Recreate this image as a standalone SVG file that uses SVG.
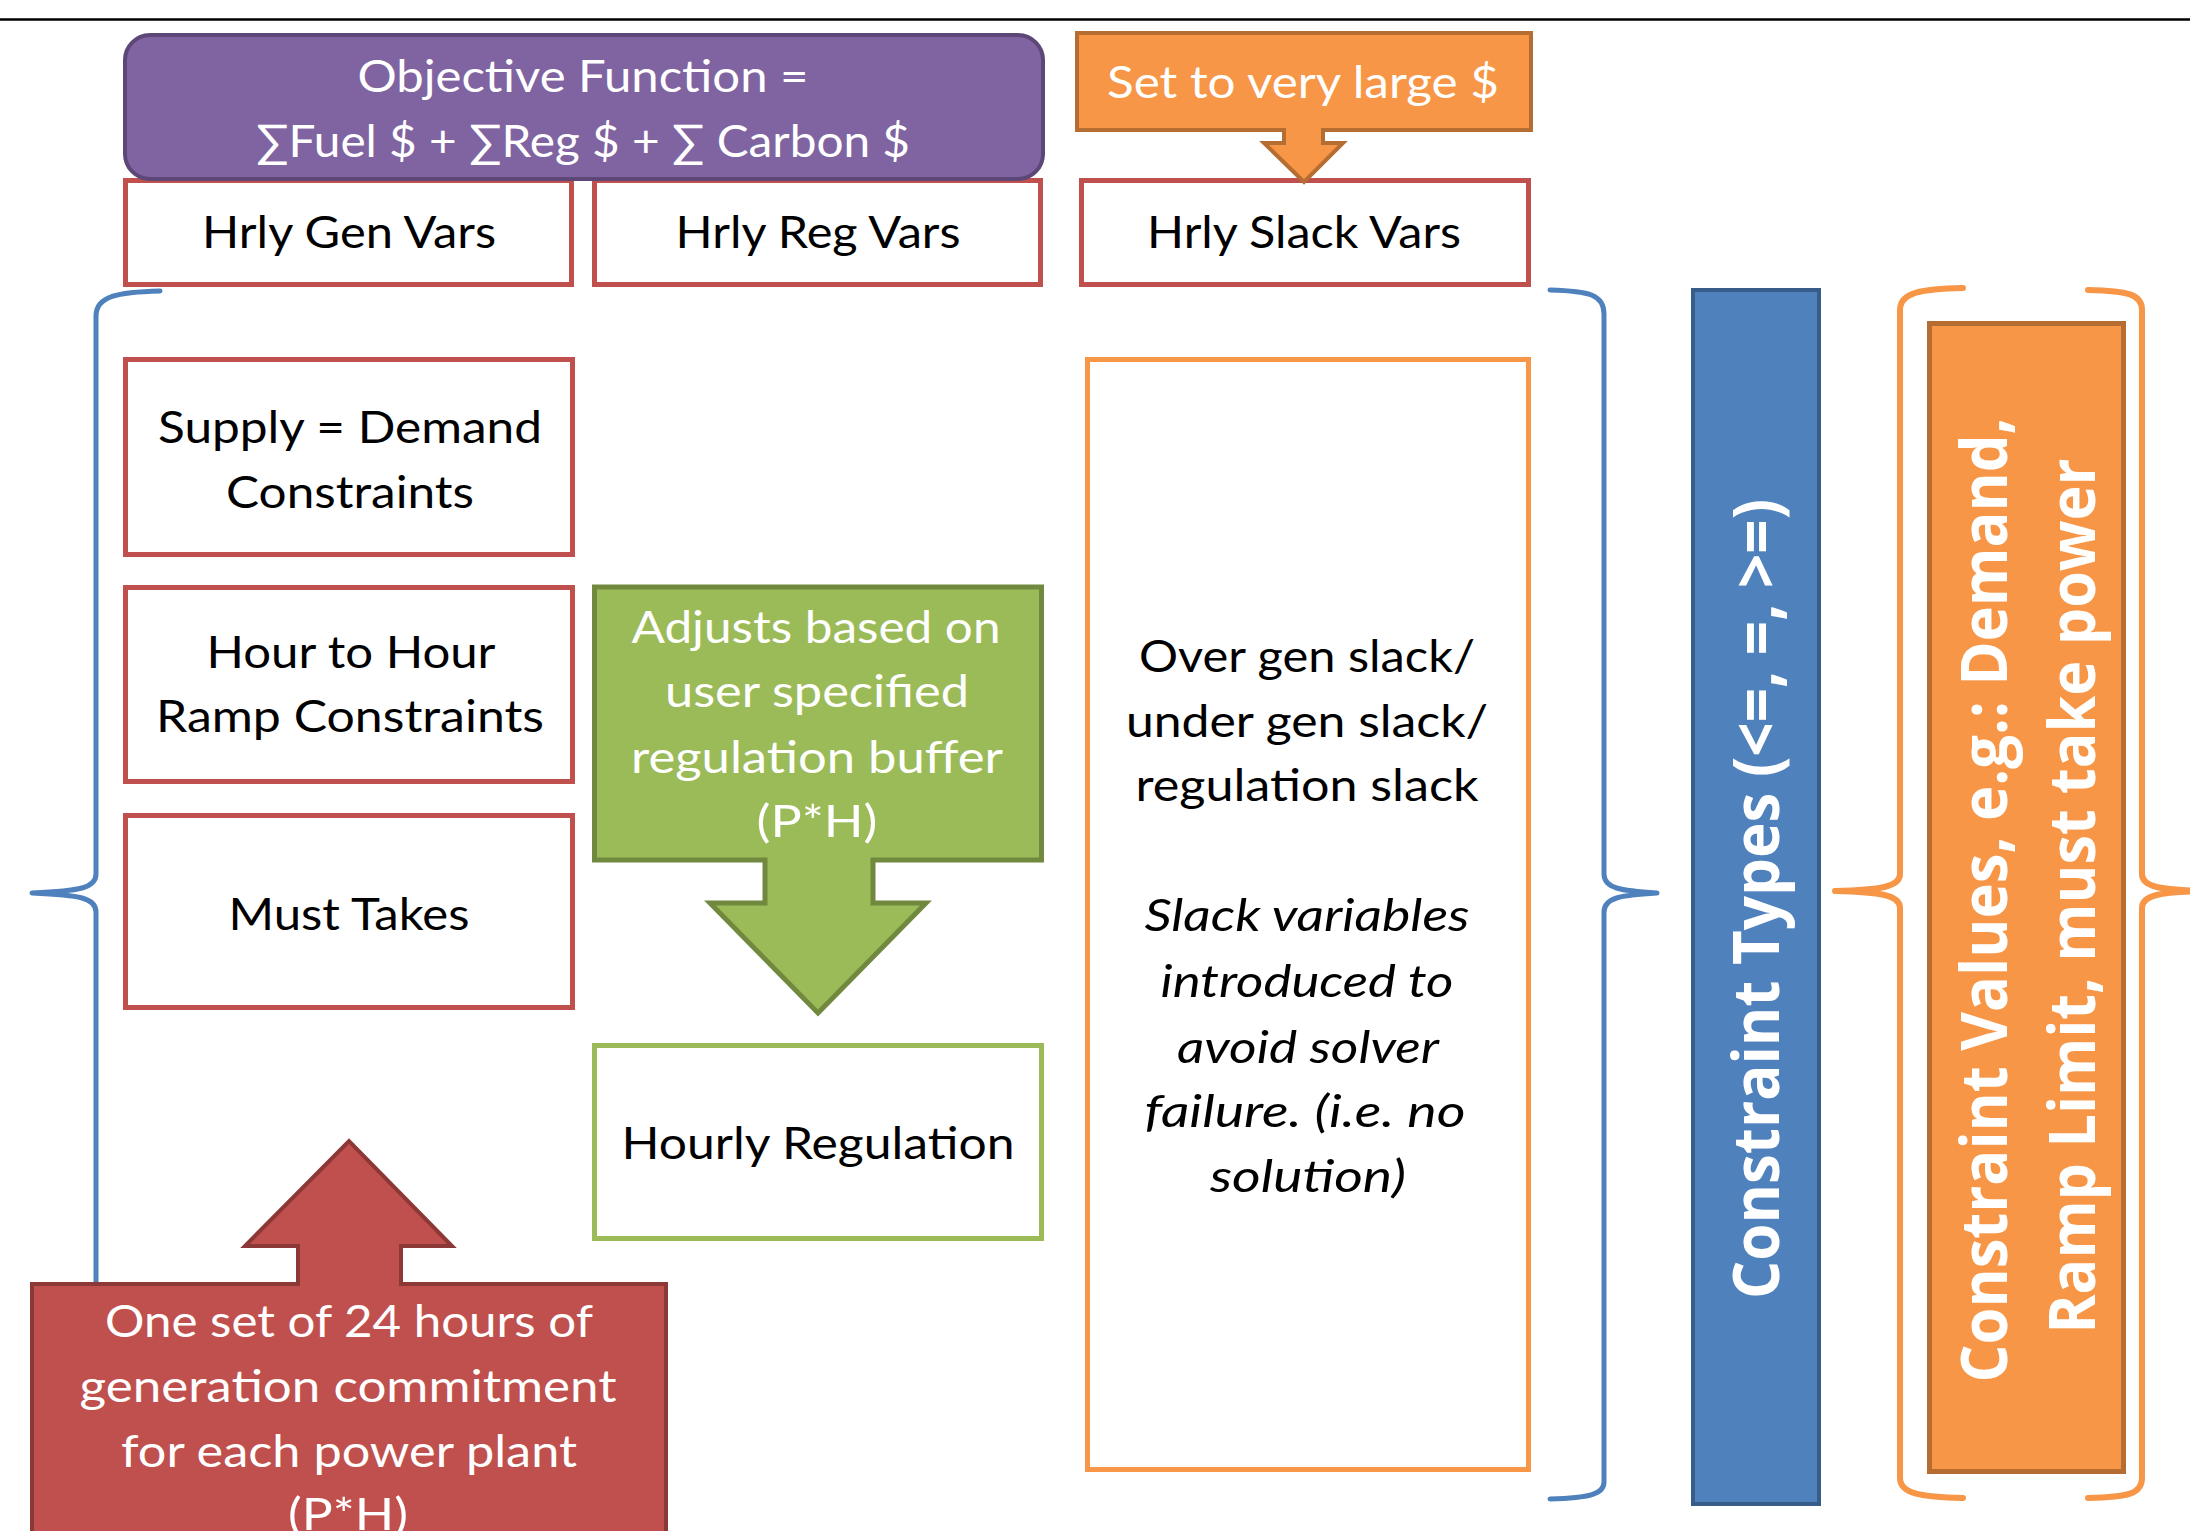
<svg xmlns="http://www.w3.org/2000/svg" width="2190" height="1531" viewBox="0 0 2190 1531">
<style>
.frame{fill:#FFFFFF;stroke:#C0504D;stroke-width:5}
.t{font-family:Lato,"Open Sans","Liberation Sans",sans-serif;font-size:45px;text-anchor:middle;fill:#000000}
.w{fill:#FFFFFF}
.i{font-style:italic}
.v{font-family:"Open Sans","DejaVu Sans","Liberation Sans",sans-serif;font-weight:700;font-size:64px;text-anchor:middle;fill:#FFFFFF}
.brace-b{fill:none;stroke:#4F81BD;stroke-width:5;stroke-linecap:round;stroke-linejoin:round}
.brace-o{fill:none;stroke:#F79646;stroke-width:6;stroke-linecap:round;stroke-linejoin:round}
</style>
<rect x="0" y="0" width="2190" height="1531" fill="#FFFFFF"/>
<line x1="0" y1="19.5" x2="2190" y2="19.5" stroke="#000000" stroke-width="2.5"/>

<g id="connectors">
<path class="brace-b" d="M160,291 C118,292 96,296 96,316 L96,874 C96,888 80,891 32,893 C80,895 96,898 96,912 L96,1560"/>
<path class="brace-b" d="M1550,290 C1590,291 1604,295 1604,314 L1604,874 C1604,888 1620,891 1657,893 C1620,895 1604,898 1604,912 L1604,1482 C1604,1494 1590,1498 1550,1499"/>
<path class="brace-o" d="M1963,288 C1922,289 1900,292 1900,310 L1900,874 C1900,887 1880,890 1835,891 C1880,892 1900,895 1900,908 L1900,1478 C1900,1494 1922,1497 1963,1498"/>
<path class="brace-o" d="M2088,290 C2128,291 2142,294 2142,310 L2142,874 C2142,887 2160,890 2205,891 C2160,892 2142,895 2142,908 L2142,1478 C2142,1494 2128,1497 2088,1498"/>
</g>

<g id="hrly-gen-vars">
<rect class="frame" x="125.5" y="180.5" width="446" height="104"/>
<text class="t" x="349" y="248" textLength="294" lengthAdjust="spacingAndGlyphs">Hrly Gen Vars</text>
</g>
<g id="hrly-reg-vars">
<rect class="frame" x="594.5" y="180.5" width="446" height="104"/>
<text class="t" x="818" y="248" textLength="285" lengthAdjust="spacingAndGlyphs">Hrly Reg Vars</text>
</g>
<g id="objective-function">
<rect x="125" y="35" width="918" height="144" rx="25" ry="25" fill="#8064A2" stroke="#5C4776" stroke-width="4"/>
<text class="t w" x="583" y="92" textLength="451" lengthAdjust="spacingAndGlyphs">Objective Function =</text>
<text class="t w" x="583" y="157" textLength="654" lengthAdjust="spacingAndGlyphs">∑Fuel $ + ∑Reg $ + ∑ Carbon $</text>
</g>

<g id="hrly-slack-vars">
<rect class="frame" x="1081.5" y="180.5" width="447" height="104"/>
<text class="t" x="1304" y="248" textLength="314" lengthAdjust="spacingAndGlyphs">Hrly Slack Vars</text>
</g>
<g id="set-large">
<path d="M1077,33 H1531 V130 H1323 V143 H1343 L1304,182 L1264,143 H1284 V130 H1077 Z" fill="#F79646" stroke="#B66D31" stroke-width="4" stroke-linejoin="miter"/>
<text class="t w" x="1303" y="98" textLength="392" lengthAdjust="spacingAndGlyphs">Set to very large $</text>
</g>

<g id="supply-demand">
<rect class="frame" x="125.5" y="359.5" width="447" height="195"/>
<text class="t" x="350" y="443" textLength="384" lengthAdjust="spacingAndGlyphs">Supply = Demand</text>
<text class="t" x="350" y="508" textLength="248" lengthAdjust="spacingAndGlyphs">Constraints</text>
</g>
<g id="ramp-constraints">
<rect class="frame" x="125.5" y="587.5" width="447" height="194"/>
<text class="t" x="351" y="668" textLength="289" lengthAdjust="spacingAndGlyphs">Hour to Hour</text>
<text class="t" x="350" y="732" textLength="388" lengthAdjust="spacingAndGlyphs">Ramp Constraints</text>
</g>
<g id="must-takes">
<rect class="frame" x="125.5" y="815.5" width="447" height="192"/>
<text class="t" x="349" y="930" textLength="241" lengthAdjust="spacingAndGlyphs">Must Takes</text>
</g>

<g id="regulation-buffer">
<path d="M594.5,587 H1041.5 V860 H873 V903 H926 L818,1013 L710,903 H765 V860 H594.5 Z" fill="#9BBB59" stroke="#71893F" stroke-width="5" stroke-linejoin="miter"/>
<text class="t w" x="816" y="643" textLength="369" lengthAdjust="spacingAndGlyphs">Adjusts based on</text>
<text class="t w" x="817" y="707" textLength="304" lengthAdjust="spacingAndGlyphs">user specified</text>
<text class="t w" x="817" y="773" textLength="372" lengthAdjust="spacingAndGlyphs">regulation buffer</text>
<text class="t w" x="817" y="837" textLength="121" lengthAdjust="spacingAndGlyphs">(P*H)</text>
</g>

<g id="hourly-regulation">
<rect x="594.5" y="1045.5" width="447" height="193" fill="#FFFFFF" stroke="#9BBB59" stroke-width="5"/>
<text class="t" x="818" y="1159" textLength="393" lengthAdjust="spacingAndGlyphs">Hourly Regulation</text>
</g>

<g id="generation-commitment">
<path d="M32,1284 H298 V1246 H245 L349,1141 L452,1246 H401 V1284 H666 V1560 H32 Z" fill="#C0504D" stroke="#8C3836" stroke-width="4" stroke-linejoin="miter"/>
<text class="t w" x="349" y="1337" textLength="488" lengthAdjust="spacingAndGlyphs">One set of 24 hours of</text>
<text class="t w" x="348" y="1402" textLength="537" lengthAdjust="spacingAndGlyphs">generation commitment</text>
<text class="t w" x="349" y="1467" textLength="456" lengthAdjust="spacingAndGlyphs">for each power plant</text>
<text class="t w" x="348" y="1530" textLength="120" lengthAdjust="spacingAndGlyphs">(P*H)</text>
</g>

<g id="slack-description">
<rect x="1087.5" y="359.5" width="441" height="1110" fill="#FFFFFF" stroke="#F79646" stroke-width="5"/>
<text class="t" x="1307" y="672" textLength="336" lengthAdjust="spacingAndGlyphs">Over gen slack/</text>
<text class="t" x="1307" y="737" textLength="362" lengthAdjust="spacingAndGlyphs">under gen slack/</text>
<text class="t" x="1307" y="801" textLength="343" lengthAdjust="spacingAndGlyphs">regulation slack</text>
<text class="t i" x="1307" y="931" textLength="325" lengthAdjust="spacingAndGlyphs">Slack variables</text>
<text class="t i" x="1307" y="997" textLength="293" lengthAdjust="spacingAndGlyphs">introduced to</text>
<text class="t i" x="1308" y="1063" textLength="262" lengthAdjust="spacingAndGlyphs">avoid solver</text>
<text class="t i" x="1305" y="1127" textLength="321" lengthAdjust="spacingAndGlyphs">failure. (i.e. no</text>
<text class="t i" x="1308" y="1192" textLength="196" lengthAdjust="spacingAndGlyphs">solution)</text>
</g>

<g id="constraint-types">
<rect x="1693" y="290" width="126" height="1214" fill="#4F81BD" stroke="#385D8A" stroke-width="4"/>
<text class="v" transform="translate(1779,899) rotate(-90)" textLength="800" lengthAdjust="spacingAndGlyphs">Constraint Types (&lt;=, =, &gt;=)</text>
</g>

<g id="constraint-values">
<rect x="1929.5" y="323.5" width="194" height="1148" fill="#F79646" stroke="#B66D31" stroke-width="5"/>
<text class="v" transform="translate(2007,900) rotate(-90)" textLength="965" lengthAdjust="spacingAndGlyphs">Constraint Values, e.g.: Demand,</text>
<text class="v" transform="translate(2095,896) rotate(-90)" textLength="875" lengthAdjust="spacingAndGlyphs">Ramp Limit, must take power</text>
</g>
</svg>
